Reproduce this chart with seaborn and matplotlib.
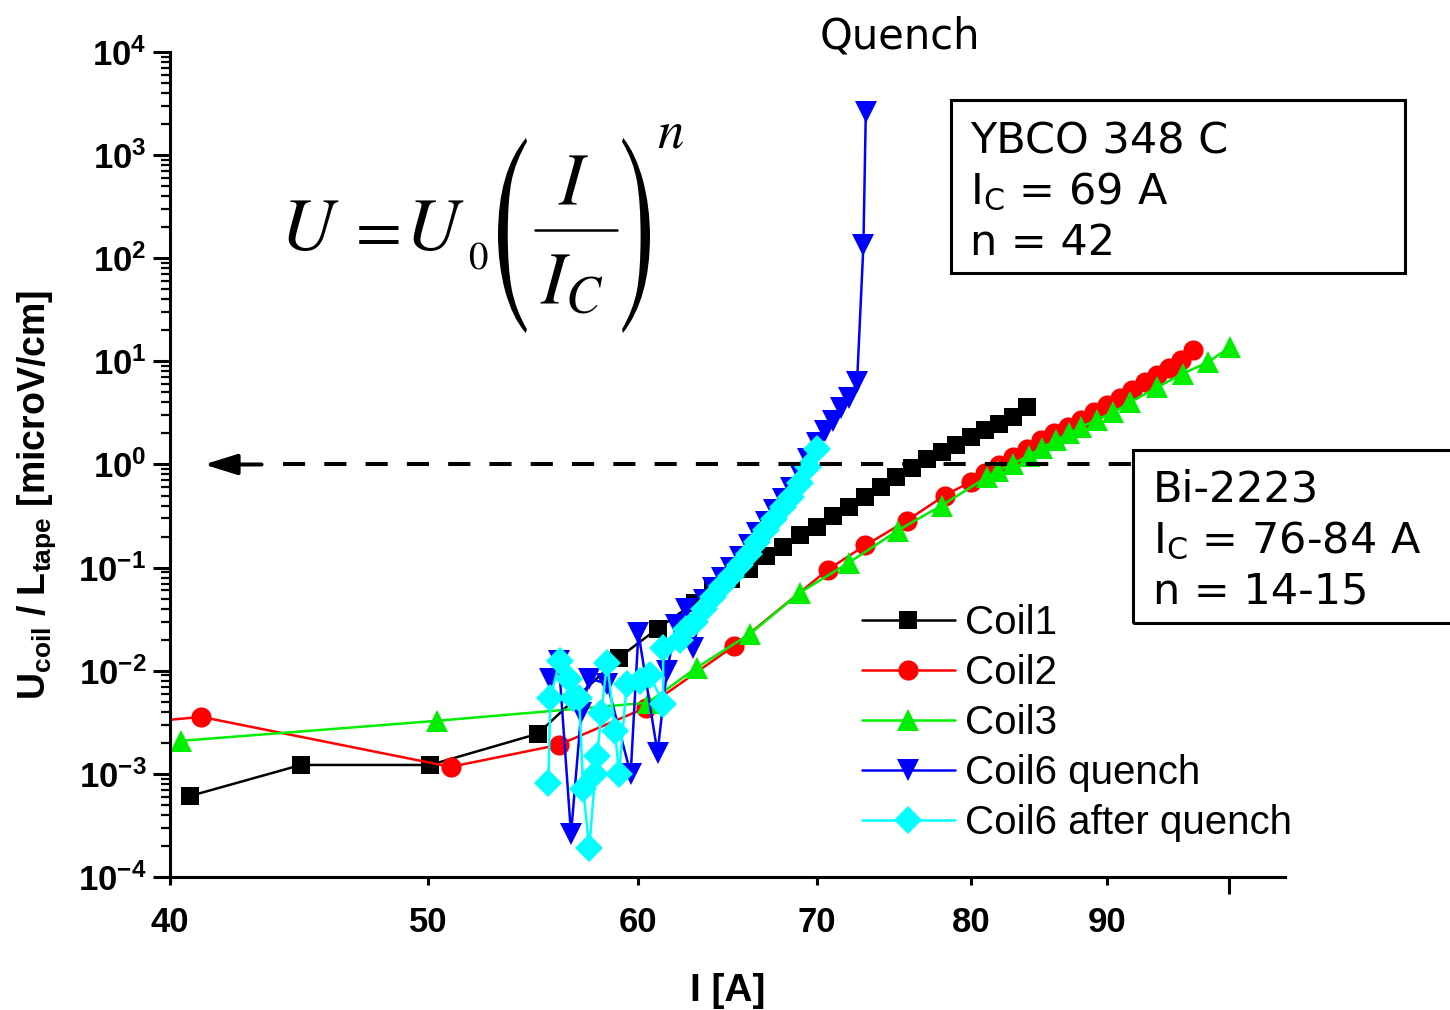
import numpy as np
import pandas as pd
import matplotlib
matplotlib.use('Agg')
import matplotlib.pyplot as plt
import seaborn as sns
from matplotlib import ticker, font_manager
from matplotlib.patches import Rectangle, PathPatch
from matplotlib.textpath import TextPath
from matplotlib.transforms import Affine2D, IdentityTransform
from matplotlib.lines import Line2D

# values: current I [A] and U/L [microV/cm]
coil1_I = [40.7, 44.8, 50.1, 55.0, 59.0, 61.0, 63.0, 64.0, 65.0, 66.0, 67.0, 68.0, 69.0, 70.0,
           71.0, 72.0, 73.0, 74.0, 75.0, 76.0, 77.0, 78.0, 79.0, 80.0, 81.0, 82.0, 83.0, 84.0]
coil1_U = [6.1e-4, 1.22e-3, 1.22e-3, 2.45e-3, 0.0134, 0.0256, 0.0457, 0.060, 0.078, 0.098, 0.131,
           0.160, 0.205, 0.250, 0.32, 0.39, 0.48, 0.60, 0.76, 0.93, 1.12, 1.31, 1.56, 1.83, 2.14,
           2.45, 2.92, 3.58]

coil2_I = [38.5, 41.1, 51.0, 56.0, 60.4, 65.2, 70.7, 73.0, 75.7, 78.2, 80.0, 81.0, 82.0, 83.0,
           84.0, 85.0, 86.0, 87.0, 88.0, 89.0, 90.0, 91.0, 92.0, 93.0, 94.0, 95.0, 96.0, 97.0]
coil2_U = [3.05e-3, 3.57e-3, 1.17e-3, 1.91e-3, 4.4e-3, 0.0175, 0.0957, 0.164, 0.286, 0.50, 0.68,
           0.82, 0.98, 1.17, 1.40, 1.71, 2.0, 2.29, 2.73, 3.2, 3.74, 4.37, 5.23, 6.25, 7.31, 8.55,
           10.2, 12.8]

coil3_I = [40.4, 50.4, 60.5, 63.1, 66.1, 69.0, 72.0, 75.1, 78.0, 81.1, 81.9, 83.0, 84.1, 85.1,
           86.1, 87.1, 88.0, 89.2, 90.5, 91.8, 94.0, 96.1, 98.2, 100.1]
coil3_U = [2.09e-3, 3.27e-3, 4.9e-3, 0.0107, 0.0229, 0.0572, 0.112, 0.229, 0.40, 0.75, 0.87, 1.02,
           1.22, 1.46, 1.71, 2.0, 2.29, 2.73, 3.2, 4.0, 5.6, 7.6, 9.8, 13.7]

coil6q_I = [55.6, 56.0, 56.6, 57.1, 57.5, 58.4, 59.6, 60.0, 61.0, 61.5, 62.0, 62.5, 62.9, 63.5,
            64.0, 64.5, 65.0, 65.5, 66.0, 66.5, 67.0, 67.5, 68.0, 68.5, 69.0, 69.5, 70.0, 70.5,
            71.0, 71.5, 72.0, 72.5, 72.9, 73.05]
coil6q_U = [0.0084, 0.0125, 2.6e-4, 0.0039, 0.0084, 0.0075, 0.0010, 0.0234, 0.0016, 0.0100, 0.028,
            0.040, 0.0167, 0.048, 0.063, 0.080, 0.100, 0.128, 0.164, 0.215, 0.28, 0.36, 0.46,
            0.59, 0.80, 1.14, 1.6, 2.1, 2.67, 3.5, 4.4, 6.25, 134.0, 2600.0]

coil6a_I = [55.5, 55.6, 56.05, 56.5, 56.7, 57.0, 57.2, 57.5, 57.8, 57.9, 58.1, 58.4, 58.8, 59.0,
            59.4, 60.1, 60.6, 61.3, 61.3, 62.2, 62.5, 63.0, 63.5, 64.0, 64.5, 65.0, 65.5, 66.0,
            66.5, 67.0, 67.5, 68.0, 68.5, 69.0, 69.5, 70.0]
coil6a_U = [8.2e-4, 5.5e-3, 0.0125, 0.0084, 0.0054, 0.0055, 7.1e-4, 1.9e-4, 1.0e-3, 1.5e-3, 3.9e-3,
            0.0120, 2.6e-3, 1.0e-3, 7.5e-3, 8.0e-3, 9.0e-3, 4.8e-3, 0.0167, 0.0200, 0.0256, 0.0299,
            0.040, 0.0523, 0.0669, 0.0836, 0.107, 0.137, 0.179, 0.234, 0.299, 0.383, 0.489, 0.669,
            0.95, 1.4]

xtick_values = [40, 50, 60, 70, 80, 90]
xtick_labels = ['40', '50', '60', '70', '80', '90']

# 1 microV/cm criterion arrow (I positions where it starts / ends)
crit_U = 1.0
arrow_tip_I, arrow_tail_I, dash_start_I, dash_end_I = 41.2, 43.3, 44.1, 92.2

box1_lines = ['YBCO 348 C', r'I$_\mathdefault{C}$ = 69 A', 'n = 42']
box2_lines = ['Bi-2223', r'I$_\mathdefault{C}$ = 76-84 A', 'n = 14-15']

sns.set_style('ticks', rc={'axes.edgecolor': 'black', 'xtick.color': 'black',
                           'ytick.color': 'black', 'text.color': 'black',
                           'axes.labelcolor': 'black'})
plt.rcParams['font.family'] = ['Liberation Sans', 'DejaVu Sans']

installed = {f.name for f in font_manager.fontManager.ttflist}
narrow = 'Liberation Sans Narrow' in installed

W, H = 1450, 1010
fig = plt.figure(figsize=(W / 100, H / 100), dpi=100)
ax = fig.add_axes([0.1172, 0.1317, 0.769, 0.8168])
ax.set_xscale('log')
ax.set_yscale('log')

series = [
    (coil1_I, coil1_U, 'Coil1', '#000000', 's', 13.5),
    (coil2_I, coil2_U, 'Coil2', '#ff0000', 'o', 14.5),
    (coil3_I, coil3_U, 'Coil3', '#00ee00', '^', 16),
    (coil6q_I, coil6q_U, 'Coil6 quench', '#0000ff', 'v', 16),
    (coil6a_I, coil6a_U, 'Coil6 after quench', '#00ffff', 'D', 14),
]
for I, U, name, col, mk, ms in series:
    df = pd.DataFrame({'I': I, 'U': U})
    sns.lineplot(data=df, x='I', y='U', ax=ax, sort=False, estimator=None, color=col,
                 marker=mk, markersize=ms, markeredgecolor=col, markeredgewidth=0,
                 linewidth=1.8, label=name)

# dashed criterion line with arrow head
ax.plot([dash_start_I, dash_end_I], [crit_U, crit_U], color='black', lw=2.9,
        ls=(0, (5.5, 4.75)))
ax.annotate('', xy=(arrow_tip_I, crit_U), xytext=(arrow_tail_I, crit_U),
            arrowprops=dict(arrowstyle='-|>,head_length=0.8,head_width=0.25', color='black',
                            lw=2.9, mutation_scale=25, shrinkA=0, shrinkB=0))

ax.set_xlim(40, 105)
ax.set_ylim(1e-4, 1e4)
ax.xaxis.set_major_locator(ticker.FixedLocator([100]))
ax.xaxis.set_major_formatter(ticker.NullFormatter())
ax.xaxis.set_minor_locator(ticker.FixedLocator(xtick_values))
ax.xaxis.set_minor_formatter(ticker.FixedFormatter(xtick_labels))
ax.yaxis.set_major_locator(ticker.LogLocator(base=10, numticks=20))
ax.yaxis.set_minor_locator(ticker.LogLocator(base=10, subs=np.arange(2, 10), numticks=20))
ax.yaxis.set_minor_formatter(ticker.NullFormatter())

ax.tick_params(axis='y', which='major', direction='out', length=12, width=2.2,
               labelsize=25, pad=5)
ax.tick_params(axis='y', which='minor', direction='out', length=6.5, width=1.6)
ax.tick_params(axis='x', which='major', direction='out', length=12, width=2.2)
ax.tick_params(axis='x', which='minor', direction='out', length=6, width=2.2,
               labelsize=25, pad=15)
plt.setp(ax.get_xticklabels(minor=True), fontweight='bold')
plt.setp(ax.get_yticklabels(), fontweight='bold')

ax.spines[['top', 'right']].set_visible(False)
ax.spines['left'].set_linewidth(2.2)
ax.spines['bottom'].set_linewidth(2.2)

ax.set_xlabel('I [A]', fontsize=28, fontweight='bold')
ax.xaxis.set_label_coords(0.5, -0.116)
if narrow:
    ax.set_ylabel(r'U$_{\mathdefault{coil}}$ / L$_{\mathdefault{tape}}$ [microV/cm]',
                  fontsize=31, fontweight='bold', family='Liberation Sans Narrow')
else:
    ax.set_ylabel(r'U$_{\mathdefault{coil}}$ / L$_{\mathdefault{tape}}$ [microV/cm]',
                  fontsize=27, fontweight='bold')
ax.yaxis.set_label_coords(-0.1, 0.463)

handles, labels = ax.get_legend_handles_labels()
ax.legend(handles[:5], labels[:5], loc='upper left', bbox_to_anchor=(862 / W, 1 - 604 / H),
          bbox_transform=fig.transFigure, frameon=False, fontsize=29, handlelength=2.3,
          handletextpad=0.25, labelspacing=0.3, borderpad=0, borderaxespad=0)

# formula U = U0 (I / Ic)^n, built from pieces so the brackets can be tall
stix = dict(math_fontfamily='stix')
fig.text(280 / W, 1 - 250 / H, r'$U$', fontsize=54, va='baseline', ha='left', **stix)
fig.text(346 / W, 1 - 250 / H, r'$=$', fontsize=48, va='baseline', ha='left', **stix)
fig.text(405 / W, 1 - 250 / H, r'$U$', fontsize=54, va='baseline', ha='left', **stix)
fig.text(468 / W, 1 - 270 / H, '0', fontsize=28, family='STIXGeneral', va='baseline', ha='left')
fig.text(574 / W, 1 - 205 / H, r'$I$', fontsize=54, va='baseline', ha='center', **stix)
fig.text(572 / W, 1 - 305 / H, r'$I_C$', fontsize=54, va='baseline', ha='center', **stix)
fig.add_artist(Line2D([535 / W, 617 / W], [1 - 230 / H, 1 - 230 / H], color='black', lw=1.8,
                      transform=fig.transFigure))
fig.text(657 / W, 1 - 148 / H, r'$n$', fontsize=38, va='baseline', ha='left', **stix)


def tall_bracket(ch, left, top, bottom, width):
    # glyph stretched to the bracket box, all in pixels from the top left
    tp = TextPath((0, 0), ch, size=40, prop=font_manager.FontProperties(family='STIXGeneral'))
    bb = tp.get_extents()
    tr = (Affine2D().translate(-bb.x0, -bb.y0)
          .scale(width / bb.width, (bottom - top) / bb.height)
          .translate(left, H - bottom))
    fig.add_artist(PathPatch(tr.transform_path(tp), facecolor='black', edgecolor='none',
                             transform=IdentityTransform()))


tall_bracket('(', 498, 138, 333, 29)
tall_bracket(')', 622, 138, 333, 28)

fig.text(900 / W, 1 - 48 / H, 'Quench', ha='center', va='baseline', fontsize=30,
         family='DejaVu Sans')

fig.add_artist(Rectangle((951 / W, 1 - 273 / H), 454 / W, 173 / H,
                         transform=fig.transFigure, fill=False, lw=2.2, ec='black'))
for k, line in enumerate(box1_lines):
    fig.text(970 / W, 1 - (153 + 51 * k) / H, line, fontsize=31, family='DejaVu Sans',
             va='baseline', ha='left')

fig.add_artist(Rectangle((1133 / W, 1 - 623 / H), 340 / W, 173 / H,
                         transform=fig.transFigure, fill=False, lw=2.2, ec='black'))
for k, line in enumerate(box2_lines):
    fig.text(1153 / W, 1 - (502 + 51 * k) / H, line, fontsize=31, family='DejaVu Sans',
             va='baseline', ha='left')

fig.savefig('out.png', dpi=100)
